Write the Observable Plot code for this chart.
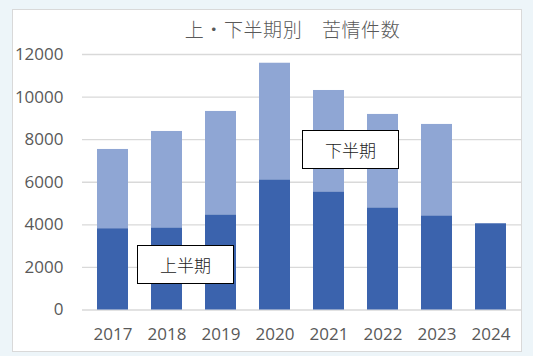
<!DOCTYPE html>
<html>
<head>
<meta charset="utf-8">
<script src="https://cdn.jsdelivr.net/npm/d3@7"></script>
<script src="https://cdn.jsdelivr.net/npm/@observablehq/plot@0.6"></script>
<style>
  html, body { margin: 0; padding: 0; }
  #wrap { position: relative; width: 533px; height: 356px; background: #EDF5F9; overflow: hidden; }
  #panel { position: absolute; left: 12px; top: 9px; width: 510px; height: 343px; box-sizing: border-box; background: #fff; border: 1px solid #D9D9D9; }
  #title { position: absolute; left: 0; width: 585px; top: 17px; text-align: center; font-family: "Noto Sans CJK JP", sans-serif; font-weight: 300; font-size: 19px; letter-spacing: 0.6px; color: #595959; line-height: 24px; white-space: nowrap; }
  #chart { position: absolute; left: 0; top: 0; }
  .lbl { position: absolute; width: 97px; height: 39px; box-sizing: border-box; border: 1px solid #000; background: #fff; font-family: "Noto Sans CJK JP", sans-serif; font-weight: 300; font-size: 17px; color: #222; display: flex; align-items: center; justify-content: center; }
</style>
</head>
<body>
<div id="wrap">
  <div id="panel"></div>
  <div id="chart"></div>
  <div id="title">上・下半期別　苦情件数</div>
  <div class="lbl" id="lblH1" style="left:137px; top:245px;">上半期</div>
  <div class="lbl" id="lblH2" style="left:302px; top:130px;">下半期</div>
</div>
<script>
const years = ["2017", "2018", "2019", "2020", "2021", "2022", "2023", "2024"];
const firstHalf = [3820, 3860, 4470, 6115, 5550, 4800, 4425, 4050];
const secondHalf = [3720, 4525, 4855, 5475, 4760, 4385, 4290, 0];
const seriesNames = ["上半期", "下半期"];
const seriesColors = ["#3B63AD", "#8FA6D4"];
const yTicks = [0, 2000, 4000, 6000, 8000, 10000, 12000];

const data = [];
years.forEach((yr, i) => {
  data.push({year: yr, half: seriesNames[0], value: firstHalf[i]});
  data.push({year: yr, half: seriesNames[1], value: secondHalf[i]});
});

const chart = Plot.plot({
  width: 533,
  height: 356,
  marginLeft: 82,
  marginRight: 12,
  marginTop: 54,
  marginBottom: 46.5,
  style: {background: "transparent", fontFamily: "'Open Sans', sans-serif", fontSize: "17px", color: "#595959"},
  x: {domain: years, paddingInner: 0.42, paddingOuter: 0.21, label: null},
  y: {domain: [0, 12000], label: null},
  color: {domain: seriesNames, range: seriesColors},
  marks: [
    Plot.gridY(yTicks, {stroke: "#D9D9D9", strokeOpacity: 1, strokeWidth: 1.4}),
    Plot.barY(data, {x: "year", y: "value", fill: "half", order: seriesNames}),
    Plot.axisY(yTicks, {tickSize: 0, tickPadding: 19, label: null, tickFormat: d => String(d)}),
    Plot.axisX({tickSize: 0, tickPadding: 18, label: null})
  ]
});
document.getElementById("chart").appendChild(chart);
</script>
</body>
</html>
